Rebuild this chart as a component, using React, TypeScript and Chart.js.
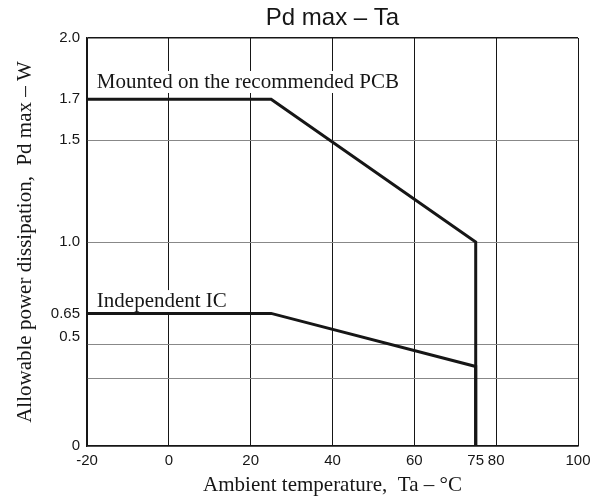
import React, { useEffect, useRef } from "react";
import { Chart, registerables } from "chart.js";

Chart.register(...registerables);

const temps = [-20, 25, 75, 75];
const pcbPower = [1.7, 1.7, 1.0, 0];
const icPower = [0.65, 0.65, 0.39, 0];

const xTickValues = [-20, 0, 20, 40, 60, 75, 80, 100];
const xTickLabels = ["-20", "0", "20", "40", "60", "75", "80", "100"];
// grid-line values (gray / black lines across the plot)
const yGridValues = [0, 0.333, 0.5, 1.0, 1.5, 2.0];
// labelled tick values; "0.5" is nudged up in the original to clear "0.65"
const yLabelValues = [0, 0.535, 0.65, 1.0, 1.5, 1.7, 2.0];
const yLabelTexts = ["0", "0.5", "0.65", "1.0", "1.5", "1.7", "2.0"];

const seriesNames = ["Mounted on the recommended PCB", "Independent IC"];
const labelAnchors = [
  { x: -17.6, y: 1.755 },
  { x: -17.6, y: 0.681 },
];

const SERIF = "'Liberation Serif', 'Times New Roman', serif";
const SANS = "'Liberation Sans', Arial, sans-serif";
const INK = "#161616";

const labelPlugin = {
  id: "seriesLabels",
  beforeDatasetsDraw(chart: any) {
    const { ctx, scales } = chart;
    ctx.save();
    ctx.font = `21px ${SERIF}`;
    ctx.textBaseline = "alphabetic";
    ctx.textAlign = "left";
    seriesNames.forEach((name, i) => {
      const px = scales.x.getPixelForValue(labelAnchors[i].x);
      const py = scales.y.getPixelForValue(labelAnchors[i].y);
      const w = ctx.measureText(name).width;
      ctx.fillStyle = "#ffffff";
      ctx.fillRect(px - 2, py - 17, w + 4, 22);
      ctx.fillStyle = INK;
      ctx.fillText(name, px, py);
    });
    ctx.restore();
  },
};

export default function App() {
  const ref = useRef<HTMLCanvasElement | null>(null);
  useEffect(() => {
    if (!ref.current) return;
    const mk = (ys: number[]) => temps.map((t, i) => ({ x: t, y: ys[i] }));
    const allY = Array.from(new Set([...yGridValues, ...yLabelValues])).sort((a, b) => a - b);
    const chart = new Chart(ref.current, {
      type: "line",
      data: {
        datasets: [
          {
            label: seriesNames[0],
            data: mk(pcbPower),
            borderColor: INK,
            borderWidth: 3,
            pointRadius: 0,
            tension: 0,
          },
          {
            label: seriesNames[1],
            data: mk(icPower),
            borderColor: INK,
            borderWidth: 3,
            pointRadius: 0,
            tension: 0,
          },
        ],
      },
      options: {
        animation: false,
        responsive: true,
        maintainAspectRatio: false,
        layout: { padding: { left: 0, right: 26, top: 0, bottom: 0 } },
        plugins: {
          legend: { display: false },
          tooltip: { enabled: false },
          title: {
            display: true,
            text: "Pd max – Ta",
            fullSize: false,
            color: INK,
            font: { family: SANS, size: 24, weight: "normal", lineHeight: 1.2 },
            padding: { top: 4.3, bottom: 4.9 },
          },
        },
        scales: {
          x: {
            type: "linear",
            min: -20,
            max: 100,
            afterBuildTicks: (s: any) => {
              s.ticks = xTickValues.map((v) => ({ value: v }));
            },
            afterFit: (s: any) => {
              s.height = 51;
            },
            ticks: {
              autoSkip: false,
              maxRotation: 0,
              padding: 6,
              color: INK,
              font: { family: SANS, size: 15 },
              callback: (_v: any, i: number) => xTickLabels[i],
            },
            grid: {
              drawTicks: false,
              color: (c: any) => (c.tick && c.tick.value === 75 ? "rgba(0,0,0,0)" : INK),
              lineWidth: 1,
            },
            border: { color: INK, width: 1.5 },
            title: {
              display: true,
              text: "Ambient temperature,  Ta – °C",
              color: INK,
              font: { family: SERIF, size: 21, lineHeight: 1 },
              padding: { top: 0, bottom: 0.6 },
            },
          },
          y: {
            type: "linear",
            min: 0,
            max: 2,
            afterBuildTicks: (s: any) => {
              s.ticks = allY.map((v) => ({ value: v }));
            },
            afterFit: (s: any) => {
              s.width = 87;
            },
            ticks: {
              autoSkip: false,
              padding: 7,
              color: INK,
              font: { family: SANS, size: 15 },
              callback: (v: any) => {
                const k = yLabelValues.indexOf(v);
                return k >= 0 ? yLabelTexts[k] : "";
              },
            },
            grid: {
              drawTicks: false,
              color: (c: any) => {
                const v = c.tick ? c.tick.value : 0;
                if (yGridValues.indexOf(v) < 0) return "rgba(0,0,0,0)";
                if (v === 2.0) return INK;
                return "#888888";
              },
              lineWidth: (c: any) => (c.tick && c.tick.value === 2.0 ? 1.5 : 1),
            },
            border: { color: INK, width: 1.5 },
            title: {
              display: true,
              text: "Allowable power dissipation,  Pd max – W",
              color: INK,
              font: { family: SERIF, size: 21, lineHeight: 1.2 },
              padding: { top: 13.3, bottom: 0 },
            },
          },
        },
      },
      plugins: [labelPlugin],
    });
    return () => chart.destroy();
  }, []);
  return (
    <div style={{ position: "absolute", left: 0, top: 0, width: 604, height: 497, background: "#fff" }}>
      <canvas ref={ref} />
    </div>
  );
}
